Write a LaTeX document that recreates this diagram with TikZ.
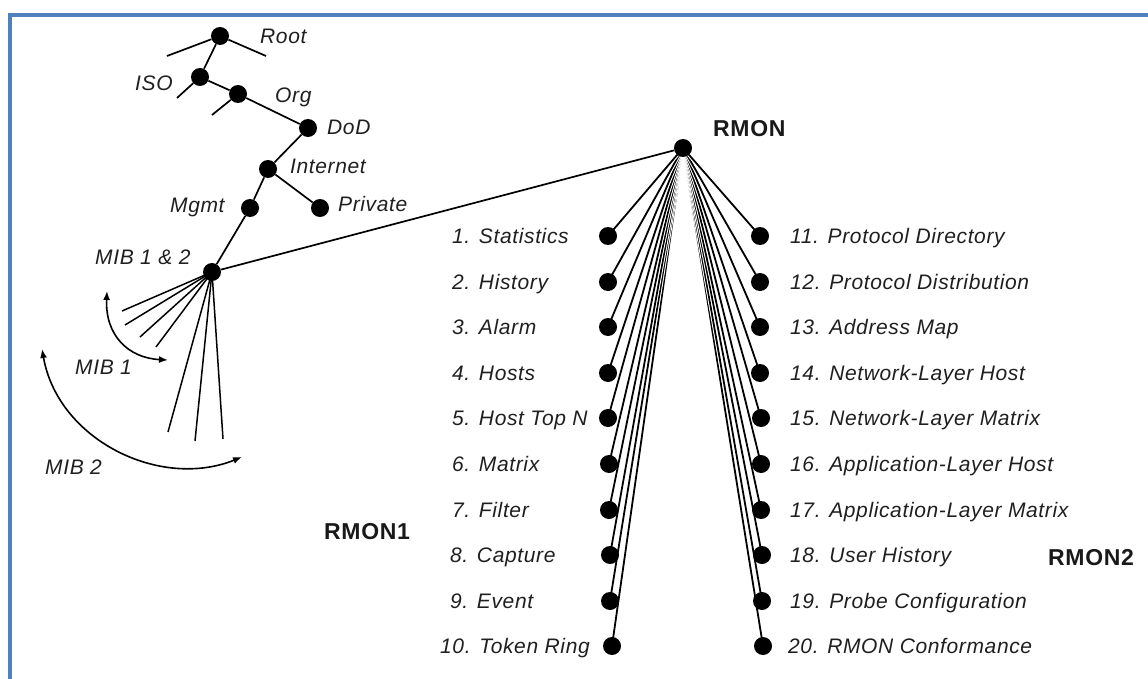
\documentclass[tikz,border=0pt]{standalone}
\usepackage{fontspec}
\setmainfont{Liberation Sans}[LetterSpace=3]
\usetikzlibrary{arrows.meta,backgrounds}
\definecolor{frameblue}{RGB}{79,129,189}

\begin{document}
\begin{tikzpicture}[x=1pt,y=-1pt,
  dot/.style={circle, fill=black, inner sep=0pt, minimum size=18pt},
  tree/.style={line width=1.7pt},
  fan/.style={line width=1.8pt, preaction={draw=white, line width=3.8pt}},
  lab/.style={font=\fontsize{21}{24}\selectfont\itshape, inner sep=0pt, anchor=west,
              text=black!88, text height=15pt, text depth=0pt},
  big/.style={font=\fontsize{23}{26}\selectfont\bfseries, inner sep=0pt, anchor=west,
              text=black!90, text height=16.5pt, text depth=0pt},
  span/.style={line width=1.6pt, {Latex[length=9pt,width=7pt]}-{Latex[length=9pt,width=7pt]}}]

\useasboundingbox (0,0) rectangle (1148,679);

% frame along the top and left edges
\draw[frameblue, line width=4pt] (10,679) -- (10,15) -- (1148,15);

% ---- MIB tree ----
\node[dot] (root) at (220,36) {};
\node[dot] (iso) at (200,77) {};
\node[dot] (org) at (238,94) {};
\node[dot] (dod) at (308,128) {};
\node[dot] (inet) at (268,169) {};
\node[dot] (mgmt) at (250,208) {};
\node[dot] (priv) at (320,208) {};
\node[dot] (mib) at (212,272) {};

\coordinate (rootL) at (167,56);
\coordinate (rootR) at (266,56);
\coordinate (isoL) at (177,98);
\coordinate (orgL) at (212,115);

\draw[tree] (rootL) -- (root) -- (rootR);
\draw[tree] (root) -- (iso) -- (org) -- (dod) -- (inet) -- (mgmt) -- (mib);
\draw[tree] (inet) -- (priv);
\draw[tree] (iso) -- (isoL);
\draw[tree] (org) -- (orgL);

\node[lab] (lroot) at (260,36) {Root};
\node[lab] (liso) at (135,83) {ISO};
\node[lab] (lorg) at (275,95) {Org};
\node[lab] (ldod) at (327,127) {DoD};
\node[lab] (linet) at (290,166) {Internet};
\node[lab] (lmgmt) at (170,205) {Mgmt};
\node[lab] (lpriv) at (338,204) {Private};
\node[lab] (lmib) at (95,257) {MIB 1 \& 2};

% MIB 1 and MIB 2 branches
\coordinate (a1) at (122,311);
\coordinate (a2) at (125,325);
\coordinate (a3) at (140,337);
\coordinate (a4) at (156,347);
\coordinate (b1) at (168,432);
\coordinate (b2) at (195,441);
\coordinate (b3) at (223,439);
\foreach \e in {a1,a2,a3,a4,b1,b2,b3}
  \draw[tree, line width=1.5pt] (mib.center) -- (\e);

\coordinate (s1a) at (107,291);
\coordinate (s1b) at (168,360);
\draw[span] (s1a) .. controls (105,335) and (128,358) .. (s1b);
\node[lab] (lmib1) at (75,367) {MIB 1};

\coordinate (s2a) at (42,349);
\coordinate (s2b) at (242,457);
\draw[span] (s2a) .. controls (58,440) and (160,490) .. (s2b);
\node[lab] (lmib2) at (45,467) {MIB 2};

% ---- RMON groups ----
\node[dot] (rmon) at (683,148) {};
\node[big] (lrmon) at (713,128) {RMON};
\node[big] (lrmon1) at (324,531) {RMON1};
\node[big] (lrmon2) at (1048,557) {RMON2};

\draw[tree] (mib) -- (rmon);

\foreach \i/\x/\y in {1/608/236, 2/608/282, 3/608/327, 4/608/373, 5/608/418,
                      6/609/464, 7/609/510, 8/610/555, 9/610/601, 10/612/646,
                      11/760/236, 12/760/282, 13/760/327, 14/760/373, 15/761/418,
                      16/761/464, 17/761/510, 18/762/555, 19/762/601, 20/763/646}
  \node[dot] (d\i) at (\x,\y) {};

% fan of group links, kept under the dots
\begin{scope}[on background layer]
  \foreach \i in {10,9,...,1,20,19,...,11}
    \draw[fan] (rmon.center) -- (d\i.center);
\end{scope}

\node[lab] (t1) at (452,236) {1. Statistics};
\node[lab] (t2) at (452,282) {2. History};
\node[lab] (t3) at (452,327) {3. Alarm};
\node[lab] (t4) at (452,373) {4. Hosts};
\node[lab] (t5) at (452,418) {5. Host Top N};
\node[lab] (t6) at (452,464) {6. Matrix};
\node[lab] (t7) at (452,510) {7. Filter};
\node[lab] (t8) at (450,555) {8. Capture};
\node[lab] (t9) at (450,601) {9. Event};
\node[lab] (t10) at (440,646) {10. Token Ring};

\node[lab] (t11) at (790,236) {11. Protocol Directory};
\node[lab] (t12) at (790,282) {12. Protocol Distribution};
\node[lab] (t13) at (790,327) {13. Address Map};
\node[lab] (t14) at (790,373) {14. Network-Layer Host};
\node[lab] (t15) at (790,418) {15. Network-Layer Matrix};
\node[lab] (t16) at (790,464) {16. Application-Layer Host};
\node[lab] (t17) at (790,510) {17. Application-Layer Matrix};
\node[lab] (t18) at (790,555) {18. User History};
\node[lab] (t19) at (790,601) {19. Probe Configuration};
\node[lab] (t20) at (788,646) {20. RMON Conformance};
\end{tikzpicture}
\end{document}
